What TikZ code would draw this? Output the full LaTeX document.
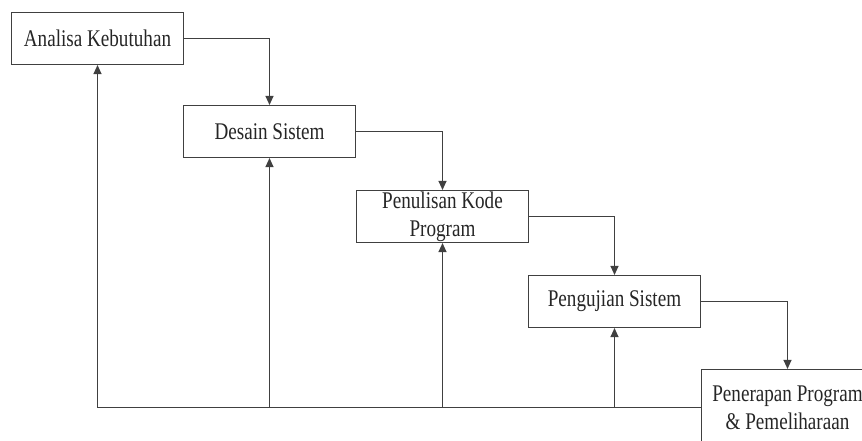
\documentclass[tikz,border=0pt]{standalone}
\usepackage{fontspec}
\setmainfont{Liberation Serif}[FakeStretch=0.8]
\usetikzlibrary{arrows.meta}

\begin{document}
\begin{tikzpicture}[x=1bp, y=-1bp,
    tahap/.style={draw=black!75, line width=1.1bp, fill=white, inner sep=0pt,
      minimum width=172bp, minimum height=52bp, align=center,
      text=black!85, font=\fontsize{24}{28}\selectfont},
    alur/.style={draw=black!75, line width=1.1bp,
      -{Triangle[length=9bp, width=8bp]}}]
  \clip (0,0) rectangle (862,441);
  % tahapan waterfall
  \node[tahap] (analisa) at (97.5,38.5) {Analisa Kebutuhan};
  \node[tahap] (desain) at (269.5,131.5) {Desain Sistem};
  \node[tahap] (kode) at (442.5,216.5) {Penulisan Kode\\Program};
  \node[tahap] (uji) at (614.5,301.5) {Pengujian Sistem};
  \node[tahap, minimum height=76bp] (terap) at (787.5,407.5) {Penerapan Program\\\& Pemeliharaan};

  % alur maju
  \draw[alur] (analisa.east) -| (desain.north);
  \draw[alur] (desain.east) -| (kode.north);
  \draw[alur] (kode.east) -| (uji.north);
  \draw[alur] (uji.east) -| (terap.north);

  % alur balik
  \draw[alur] (terap.west) -| (analisa.south);
  \draw[alur] (terap.west -| desain.south) -- (desain.south);
  \draw[alur] (terap.west -| kode.south) -- (kode.south);
  \draw[alur] (terap.west -| uji.south) -- (uji.south);
\end{tikzpicture}
\end{document}
